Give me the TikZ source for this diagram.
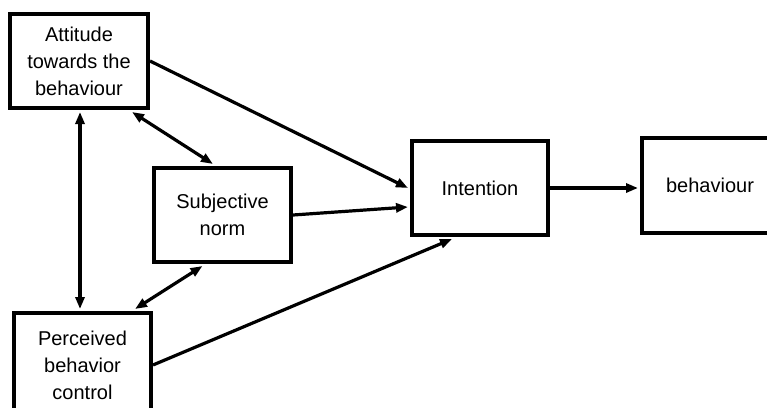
\documentclass[tikz,border=0pt]{standalone}
\usepackage{fontspec}
\setmainfont{Liberation Sans}
\usetikzlibrary{arrows.meta,calc}
\tikzset{
  box/.style={draw=black, line width=4pt, fill=white, align=center, inner sep=0pt,
    font=\fontsize{20}{27}\selectfont},
  conn/.style={line width=3.2pt, -{Triangle[length=12pt,width=9pt]}},
  dconn/.style={line width=3.2pt, {Triangle[length=12pt,width=9pt]}-{Triangle[length=12pt,width=9pt]}}
}
\begin{document}
\begin{tikzpicture}[x=1pt,y=-1pt]
\useasboundingbox (0,0) rectangle (767,407);
\clip (0,0) rectangle (767,407);
\fill[white] (0,0) rectangle (767,407);
\node[box, minimum width=138pt, minimum height=94pt] (att) at (79,61) {Attitude\\towards the\\behaviour};
\node[box, minimum width=137pt, minimum height=94pt] (sub) at (222.5,215) {Subjective\\norm};
\node[box, minimum width=137pt, minimum height=104pt] (per) at (82.5,365) {Perceived\\behavior\\control};
\node[box, minimum width=136pt, minimum height=94pt] (int) at (480,188) {Intention};
\node[box, minimum width=136pt, minimum height=95pt] (beh) at (710,185.5) {behaviour};
\coordinate (a1) at ($(att.south)+(1,2)$);
\coordinate (a2) at ($(att.south east)+(-18,2)$);
\coordinate (s1) at ($(sub.north west)+(61,-2)$);
\coordinate (s2) at ($(sub.south)+(-20,2)$);
\coordinate (p1) at ($(per.north east)+(-18,-2)$);
\coordinate (i1) at ($(int.west)+(-2,19)$);
\coordinate (i2) at ($(int.south)+(-28,2)$);
\draw[conn] (att.east) -- ($(int.west)+(-2,0)$);
\draw[conn] (sub.east) -- (i1);
\draw[conn] (per.east) -- (i2);
\draw[conn] (int.east) -- ($(int.east -| beh.west)+(-2,0)$);
\draw[dconn] (a1) -- ($(a1 |- per.north)+(0,-2)$);
\draw[dconn] (a2) -- (s1);
\draw[dconn] (s2) -- (p1);
\end{tikzpicture}
\end{document}
